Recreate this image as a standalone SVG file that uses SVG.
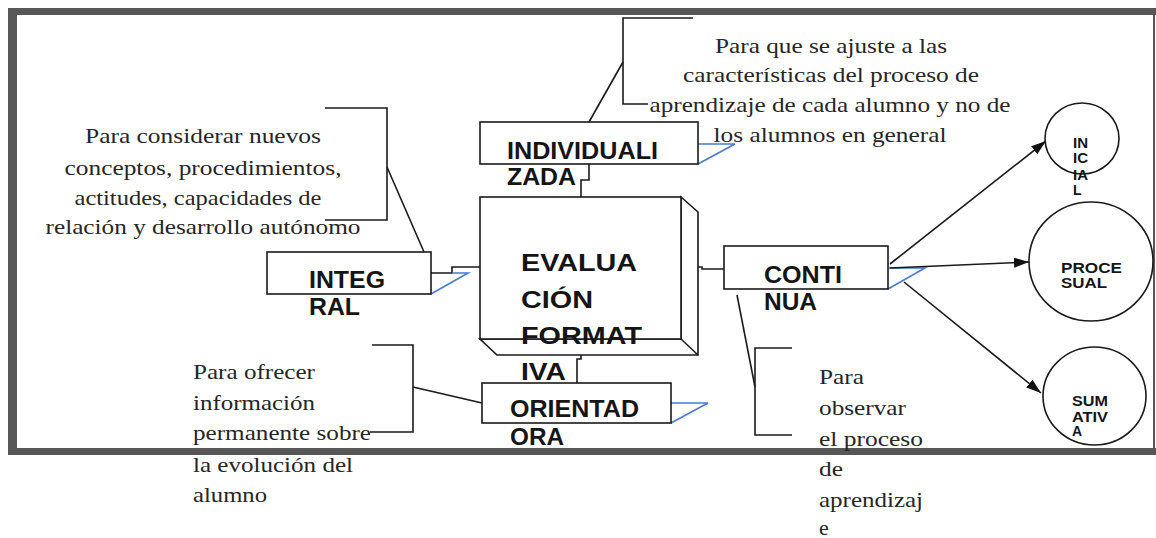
<svg xmlns="http://www.w3.org/2000/svg" width="1156" height="538" viewBox="0 0 1156 538">
<defs>
<style>
.ser{font-family:"Liberation Serif","Times New Roman",serif;font-size:22px;fill:#262626}
.bld{font-family:"Liberation Sans",Arial,sans-serif;font-weight:bold;font-size:24px;fill:#151515}
.sm{font-family:"Liberation Sans",Arial,sans-serif;font-weight:bold;font-size:14px;fill:#151515}
.box{fill:#fff;stroke:#1a1a1a;stroke-width:1.6}
.ln{fill:none;stroke:#1a1a1a;stroke-width:1.6}
.blue{fill:none;stroke:#4a7bd0;stroke-width:1.6}
.frame{fill:none;stroke:#575757}
</style>
<marker id="arr" markerUnits="userSpaceOnUse" markerWidth="16" markerHeight="10" refX="15" refY="5" orient="auto">
<path d="M0,0 L15,5 L0,10 z" fill="#111"/>
</marker>
</defs>
<rect width="1156" height="538" fill="#fff"/>
<g id="frame">
<line class="frame" x1="8" y1="11.5" x2="1156" y2="11.5" stroke-width="7"/>
<line class="frame" x1="12.5" y1="8" x2="12.5" y2="455" stroke-width="9"/>
<line class="frame" x1="8" y1="451.5" x2="1156" y2="451.5" stroke-width="7"/>
<line class="frame" x1="1154" y1="8" x2="1154" y2="455" stroke-width="2"/>
</g>
<g id="connectors">
<polyline class="ln" points="325,108 387,108 387,220 325,220"/>
<line class="ln" x1="387" y1="167" x2="424" y2="252"/>
<polyline class="ln" points="693,18 623,18 623,104 648,104"/>
<line class="ln" x1="589" y1="122" x2="623" y2="62"/>
<polyline class="ln" points="372,345 413,345 413,432 370,432"/>
<line class="ln" x1="413" y1="387" x2="482" y2="403"/>
<polyline class="ln" points="792,348 755,348 755,435 792,435"/>
<line class="ln" x1="737" y1="295" x2="755" y2="387"/>
<polyline class="ln" points="589,164 589,180 581,180 581,197"/>
<polyline class="ln" points="431,273 452,273 452,267 480,267"/>
<polyline class="ln" points="681,267 702,267 702,269 725,269"/>
<polyline class="ln" points="581,343 581,359 577,359 577,383"/>
<polyline class="blue" points="698,144 735,144 698,164"/>
<polyline class="blue" points="431,294 468,273 452,273"/>
<polyline class="blue" points="888,268 925,268 888,289"/>
<polyline class="blue" points="671,403 708,403 671,423"/>
<line class="ln" x1="890" y1="264" x2="1046" y2="141" marker-end="url(#arr)"/>
<line class="ln" x1="890" y1="268" x2="1029" y2="262" marker-end="url(#arr)"/>
<line class="ln" x1="904" y1="282" x2="1041" y2="393" marker-end="url(#arr)"/>
</g>
<g id="note-integral">
<text class="ser" x="203" y="143" text-anchor="middle" textLength="236" lengthAdjust="spacingAndGlyphs">Para considerar nuevos</text>
<text class="ser" x="203" y="175" text-anchor="middle" textLength="277" lengthAdjust="spacingAndGlyphs">conceptos, procedimientos,</text>
<text class="ser" x="198" y="205" text-anchor="middle" textLength="247" lengthAdjust="spacingAndGlyphs">actitudes, capacidades de</text>
<text class="ser" x="203" y="234" text-anchor="middle" textLength="315" lengthAdjust="spacingAndGlyphs">relación y desarrollo autónomo</text>
</g>
<g id="note-individualizada">
<text class="ser" x="831" y="53" text-anchor="middle" textLength="232" lengthAdjust="spacingAndGlyphs">Para que se ajuste a las</text>
<text class="ser" x="831" y="82" text-anchor="middle" textLength="296" lengthAdjust="spacingAndGlyphs">características del proceso de</text>
<text class="ser" x="830" y="112" text-anchor="middle" textLength="361" lengthAdjust="spacingAndGlyphs">aprendizaje de cada alumno y no de</text>
<text class="ser" x="830" y="142" text-anchor="middle" textLength="233" lengthAdjust="spacingAndGlyphs">los alumnos en general</text>
</g>
<g id="note-orientadora">
<text class="ser" x="193" y="379" textLength="122" lengthAdjust="spacingAndGlyphs">Para ofrecer</text>
<text class="ser" x="193" y="410" textLength="122" lengthAdjust="spacingAndGlyphs">información</text>
<text class="ser" x="193" y="440" textLength="178" lengthAdjust="spacingAndGlyphs">permanente sobre</text>
<text class="ser" x="193" y="472" textLength="160" lengthAdjust="spacingAndGlyphs">la evolución del</text>
<text class="ser" x="193" y="502" textLength="74" lengthAdjust="spacingAndGlyphs">alumno</text>
</g>
<g id="note-continua">
<text class="ser" x="819" y="384" textLength="45" lengthAdjust="spacingAndGlyphs">Para</text>
<text class="ser" x="819" y="415" textLength="87" lengthAdjust="spacingAndGlyphs">observar</text>
<text class="ser" x="819" y="446" textLength="104" lengthAdjust="spacingAndGlyphs">el proceso</text>
<text class="ser" x="819" y="476" textLength="24" lengthAdjust="spacingAndGlyphs">de</text>
<text class="ser" x="819" y="507" textLength="104" lengthAdjust="spacingAndGlyphs">aprendizaj</text>
<text class="ser" x="819" y="535">e</text>
</g>
<g id="individualizada">
<rect class="box" x="480" y="122" width="218" height="42"/>
<text class="bld" x="507" y="159" textLength="151" lengthAdjust="spacingAndGlyphs">INDIVIDUALI</text>
<text class="bld" x="507" y="185" textLength="69" lengthAdjust="spacingAndGlyphs">ZADA</text>
</g>
<g id="integral">
<rect class="box" x="267" y="252" width="164" height="42"/>
<text class="bld" x="309" y="288" font-size="22" textLength="76" lengthAdjust="spacingAndGlyphs">INTEG</text>
<text class="bld" x="309" y="315" font-size="22" textLength="51" lengthAdjust="spacingAndGlyphs">RAL</text>
</g>
<g id="evaluacion">
<path class="box" d="M681,197 L698,212 L698,355 L497,355 L480,339 L681,339 Z"/>
<line class="ln" x1="681" y1="339" x2="698" y2="355"/>
<rect class="box" x="480" y="197" width="201" height="142"/>
<text class="bld" x="521" y="271" textLength="116" lengthAdjust="spacingAndGlyphs">EVALUA</text>
<text class="bld" x="521" y="308" textLength="72" lengthAdjust="spacingAndGlyphs">CIÓN</text>
<text class="bld" x="521" y="344" textLength="121" lengthAdjust="spacingAndGlyphs">FORMAT</text>
<text class="bld" x="521" y="380" textLength="45" lengthAdjust="spacingAndGlyphs">IVA</text>
</g>
<g id="continua">
<rect class="box" x="724" y="246" width="164" height="43"/>
<text class="bld" x="764" y="283" font-size="23" textLength="78" lengthAdjust="spacingAndGlyphs">CONTI</text>
<text class="bld" x="764" y="310" font-size="23" textLength="53" lengthAdjust="spacingAndGlyphs">NUA</text>
</g>
<g id="orientadora">
<rect class="box" x="482" y="383" width="189" height="40"/>
<text class="bld" x="510" y="417" font-size="23" textLength="129" lengthAdjust="spacingAndGlyphs">ORIENTAD</text>
<text class="bld" x="510" y="445" font-size="23" textLength="54" lengthAdjust="spacingAndGlyphs">ORA</text>
</g>
<g id="inicial">
<ellipse class="box" cx="1082" cy="138.5" rx="37" ry="35.5"/>
<text class="sm" x="1073" y="148" font-size="15" textLength="15" lengthAdjust="spacingAndGlyphs">IN</text>
<text class="sm" x="1073" y="163" font-size="15" textLength="15" lengthAdjust="spacingAndGlyphs">IC</text>
<text class="sm" x="1073" y="180" font-size="15" textLength="15" lengthAdjust="spacingAndGlyphs">IA</text>
<text class="sm" x="1073" y="195" font-size="15">L</text>
</g>
<g id="procesual">
<ellipse class="box" cx="1091" cy="261.5" rx="62" ry="59.5"/>
<text class="sm" x="1061" y="273" font-size="15" textLength="61" lengthAdjust="spacingAndGlyphs">PROCE</text>
<text class="sm" x="1061" y="288" font-size="15" textLength="46" lengthAdjust="spacingAndGlyphs">SUAL</text>
</g>
<g id="sumativa">
<ellipse class="box" cx="1094.5" cy="396" rx="51.5" ry="49"/>
<text class="sm" x="1072" y="406" font-size="15" textLength="36" lengthAdjust="spacingAndGlyphs">SUM</text>
<text class="sm" x="1072" y="422" font-size="15" textLength="36" lengthAdjust="spacingAndGlyphs">ATIV</text>
<text class="sm" x="1072" y="436" font-size="15">A</text>
</g>
</svg>
